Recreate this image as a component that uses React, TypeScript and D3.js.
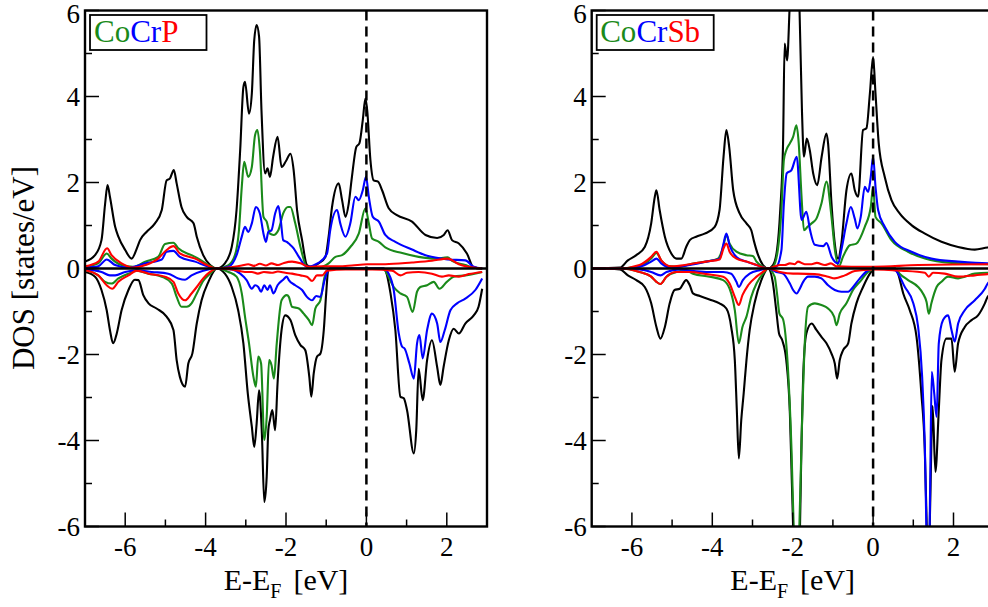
import React from 'react';
import * as d3 from 'd3';

// ---------- axis definitions ----------
const xDomain: [number, number] = [-7, 3];
const yDomain: [number, number] = [-6, 6];
const xTicksMajor = [-6, -4, -2, 0, 2];
const xTicksMinor = [-5, -3, -1, 1];
const yTicksMajor = [-6, -4, -2, 0, 2, 4, 6];
const yTicksMinor = [-5, -3, -1, 1, 3, 5];

// ---------- CoCrP (left panel) ----------
const pUpTot = [[-7,0.16],[-6.75,0.31],[-6.59,0.66],[-6.5,1.5],[-6.44,1.94],[-6.38,1.67],[-6.25,0.97],[-6.17,0.74],[-6.0,0.43],[-5.84,0.23],[-5.71,0.47],[-5.63,0.66],[-5.47,0.85],[-5.26,1.05],[-5.09,1.36],[-4.97,2.05],[-4.89,2.09],[-4.79,2.29],[-4.72,1.98],[-4.6,1.43],[-4.47,1.2],[-4.3,1.05],[-4.22,0.74],[-4.06,0.31],[-3.89,0.08],[-3.72,0],[-3.52,0.12],[-3.35,0.5],[-3.23,1.36],[-3.14,2.75],[-3.06,4.22],[-3.02,4.34],[-2.92,3.6],[-2.85,4.07],[-2.79,5.31],[-2.73,5.66],[-2.67,5.39],[-2.61,3.68],[-2.52,2.21],[-2.46,2.33],[-2.4,2.13],[-2.32,2.6],[-2.21,3.06],[-2.11,2.36],[-2.0,2.5],[-1.89,2.67],[-1.81,2.29],[-1.725,1.36],[-1.6,0.66],[-1.48,0.08],[-1.39,0.04],[-1.19,0.12],[-1.02,0.27],[-0.94,0.74],[-0.855,1.43],[-0.69,1.98],[-0.605,1.59],[-0.52,1.2],[-0.44,1.51],[-0.36,2.13],[-0.25,2.83],[-0.175,2.91],[-0.09,3.45],[-0.025,3.95],[0.02,3.68],[0.1,2.52],[0.18,2.05],[0.29,2.02],[0.39,1.82],[0.555,1.4],[0.76,1.24],[1.135,1.09],[1.47,0.78],[1.76,0.71],[1.925,0.78],[2.02,0.89],[2.13,0.66],[2.3,0.58],[2.5,0.35],[2.67,0.02],[2.88,0]];
const pUpCo = [[-7,0.04],[-6.67,0.12],[-6.46,0.35],[-6.34,0.23],[-6.09,0.08],[-5.8,0.04],[-5.5,0.16],[-5.18,0.27],[-5.01,0.57],[-4.8,0.6],[-4.68,0.47],[-4.35,0.31],[-4.18,0.23],[-3.93,0.08],[-3.72,0],[-3.43,0.08],[-3.27,0.31],[-3.17,0.89],[-3.1,1.9],[-3.04,2.48],[-2.94,2.13],[-2.85,2.36],[-2.77,3.1],[-2.71,3.22],[-2.65,2.75],[-2.56,1.2],[-2.48,1.09],[-2.4,0.81],[-2.31,0.78],[-2.19,0.89],[-2.07,1.28],[-1.95,1.43],[-1.89,1.43],[-1.77,1.05],[-1.64,0.5],[-1.48,0.04],[-1.19,0.02],[-0.94,0.12],[-0.77,0.27],[-0.605,0.31],[-0.4,0.5],[-0.19,0.81],[-0.025,1.4],[0.06,1.05],[0.14,0.7],[0.31,0.62],[0.47,0.49],[0.89,0.36],[1.3,0.27],[1.72,0.23],[2.02,0.26],[2.13,0.18],[2.46,0.08],[2.67,0.02],[2.88,0]];
const pUpCr = [[-7,0.02],[-6.67,0.05],[-6.46,0.21],[-6.25,0.08],[-5.92,0.02],[-5.5,0.12],[-5.09,0.21],[-4.97,0.39],[-4.8,0.41],[-4.64,0.27],[-4.26,0.16],[-3.93,0.04],[-3.72,0],[-3.43,0.04],[-3.23,0.31],[-3.1,0.74],[-3.02,0.97],[-2.94,0.85],[-2.85,1.05],[-2.75,1.43],[-2.65,1.28],[-2.56,0.81],[-2.5,0.62],[-2.44,0.85],[-2.36,0.89],[-2.27,1.28],[-2.19,1.45],[-2.13,1.12],[-2.07,0.66],[-1.98,0.62],[-1.93,0.58],[-1.81,0.47],[-1.68,0.27],[-1.48,0.04],[-1.19,0.13],[-0.98,0.35],[-0.9,0.89],[-0.73,1.36],[-0.65,1.05],[-0.52,0.74],[-0.4,1.05],[-0.275,1.67],[-0.19,1.59],[-0.09,1.82],[-0.01,2.13],[0.06,1.67],[0.16,1.2],[0.31,1.09],[0.47,0.78],[0.72,0.62],[1.135,0.44],[1.47,0.31],[1.88,0.23],[2.02,0.21],[2.46,0.19],[2.67,0.04],[2.88,0]];
const pUpP = [[-7,0.05],[-6.67,0.16],[-6.45,0.47],[-6.34,0.31],[-6.09,0.12],[-5.8,0.02],[-5.5,0.08],[-5.18,0.23],[-4.97,0.43],[-4.8,0.52],[-4.64,0.35],[-4.26,0.23],[-4.01,0.1],[-3.72,0],[-3.43,0.02],[-3.1,0.07],[-2.94,0.1],[-2.8,0.06],[-2.65,0.11],[-2.5,0.07],[-2.36,0.12],[-2.2,0.08],[-2.05,0.13],[-1.85,0.16],[-1.64,0.12],[-1.43,0.04],[-1.1,0.05],[-0.69,0.05],[-0.36,0.07],[0.02,0.1],[0.47,0.1],[1.135,0.14],[1.63,0.18],[2.02,0.23],[2.3,0.1],[2.67,0.02],[2.88,0]];
const pDnTot = [[-7,-0.08],[-6.75,-0.19],[-6.59,-0.5],[-6.46,-0.97],[-6.38,-1.43],[-6.3,-1.74],[-6.21,-1.51],[-6.09,-0.97],[-5.92,-0.5],[-5.76,-0.26],[-5.67,-0.27],[-5.55,-0.62],[-5.42,-0.81],[-5.22,-0.93],[-4.97,-1.12],[-4.8,-1.43],[-4.72,-2.13],[-4.64,-2.52],[-4.51,-2.75],[-4.43,-2.21],[-4.33,-1.98],[-4.22,-1.28],[-4.1,-0.74],[-3.93,-0.31],[-3.72,0],[-3.52,-0.12],[-3.35,-0.43],[-3.19,-0.97],[-3.06,-1.74],[-2.95,-2.91],[-2.85,-3.68],[-2.79,-4.15],[-2.73,-3.6],[-2.67,-2.83],[-2.6,-3.84],[-2.54,-5.43],[-2.48,-4.84],[-2.44,-3.76],[-2.4,-3.53],[-2.34,-3.29],[-2.27,-3.76],[-2.21,-2.67],[-2.11,-1.43],[-2.02,-1.09],[-1.89,-1.2],[-1.77,-1.55],[-1.64,-1.78],[-1.52,-1.9],[-1.42,-2.52],[-1.37,-2.98],[-1.31,-2.44],[-1.23,-2.05],[-1.145,-1.98],[-1.06,-1.43],[-1.0,-0.58],[-0.95,-0.04],[-0.9,0],[0.42,0],[0.47,-0.04],[0.6,-0.58],[0.72,-1.43],[0.845,-2.98],[0.93,-3.02],[1.01,-3.29],[1.18,-4.3],[1.24,-3.76],[1.3,-2.33],[1.4,-3.06],[1.51,-2.13],[1.63,-1.67],[1.76,-2.29],[1.84,-2.71],[1.92,-2.29],[2.05,-1.67],[2.17,-1.4],[2.3,-1.51],[2.46,-1.28],[2.67,-1.09],[2.79,-0.89],[2.88,-0.47]];
const pDnCo = [[-7,-0.04],[-6.67,-0.16],[-6.5,-0.31],[-6.34,-0.35],[-6.17,-0.23],[-5.92,-0.12],[-5.71,-0.05],[-5.42,-0.12],[-5.09,-0.19],[-4.84,-0.35],[-4.72,-0.66],[-4.6,-0.89],[-4.47,-0.89],[-4.35,-0.81],[-4.22,-0.58],[-4.06,-0.29],[-3.89,-0.12],[-3.72,0],[-3.43,-0.08],[-3.23,-0.19],[-3.1,-0.58],[-3.02,-1.12],[-2.92,-1.74],[-2.81,-2.52],[-2.75,-2.75],[-2.69,-2.05],[-2.62,-2.21],[-2.54,-3.99],[-2.48,-3.45],[-2.42,-2.13],[-2.36,-2.25],[-2.3,-2.56],[-2.23,-1.74],[-2.11,-0.74],[-1.98,-0.62],[-1.93,-0.66],[-1.85,-0.89],[-1.68,-0.93],[-1.56,-1.05],[-1.43,-1.2],[-1.35,-1.32],[-1.27,-0.93],[-1.145,-0.74],[-1.04,-0.19],[-0.94,-0.02],[-0.9,0],[0.42,0],[0.51,-0.12],[0.68,-0.43],[0.845,-0.58],[1.01,-0.66],[1.15,-1.01],[1.26,-0.54],[1.34,-0.43],[1.51,-0.39],[1.675,-0.31],[1.815,-0.47],[2.0,-0.31],[2.17,-0.19],[2.46,-0.16],[2.88,-0.08]];
const pDnCr = [[-7,-0.02],[-6.59,-0.08],[-6.38,-0.16],[-6.25,-0.16],[-6.0,-0.08],[-5.71,-0.04],[-5.34,-0.08],[-4.93,-0.12],[-4.68,-0.23],[-4.51,-0.26],[-4.35,-0.16],[-4.06,-0.05],[-3.72,0],[-3.35,-0.02],[-3.14,-0.12],[-2.98,-0.27],[-2.85,-0.47],[-2.77,-0.39],[-2.69,-0.43],[-2.62,-0.54],[-2.54,-0.39],[-2.46,-0.5],[-2.4,-0.39],[-2.31,-0.58],[-2.21,-0.39],[-2.07,-0.26],[-1.98,-0.19],[-1.93,-0.27],[-1.77,-0.39],[-1.6,-0.5],[-1.48,-0.66],[-1.35,-0.74],[-1.25,-0.64],[-1.145,-0.66],[-1.04,-0.27],[-0.94,-0.02],[-0.9,0],[0.42,0],[0.555,-0.12],[0.68,-0.5],[0.805,-1.51],[0.89,-1.82],[0.95,-1.86],[1.07,-2.21],[1.18,-2.56],[1.26,-1.74],[1.32,-1.55],[1.4,-2.09],[1.51,-1.43],[1.63,-1.05],[1.76,-1.28],[1.84,-1.71],[1.95,-1.43],[2.09,-0.97],[2.255,-0.81],[2.46,-0.7],[2.71,-0.5],[2.88,-0.23]];
const pDnP = [[-7,-0.04],[-6.67,-0.16],[-6.46,-0.39],[-6.32,-0.47],[-6.17,-0.31],[-5.92,-0.16],[-5.71,-0.05],[-5.42,-0.12],[-5.01,-0.19],[-4.8,-0.31],[-4.68,-0.58],[-4.51,-0.74],[-4.35,-0.58],[-4.22,-0.43],[-4.06,-0.23],[-3.89,-0.08],[-3.72,0],[-3.35,-0.02],[-3.02,-0.08],[-2.85,-0.08],[-2.7,-0.12],[-2.55,-0.08],[-2.36,-0.1],[-2.2,-0.07],[-2.02,-0.1],[-1.85,-0.12],[-1.64,-0.16],[-1.48,-0.19],[-1.35,-0.29],[-1.23,-0.16],[-1.1,-0.16],[-0.98,-0.05],[-0.52,-0.02],[0.14,-0.02],[0.64,-0.05],[0.845,-0.16],[1.01,-0.1],[1.3,-0.08],[1.63,-0.12],[1.88,-0.19],[2.05,-0.16],[2.3,-0.19],[2.545,-0.13],[2.88,-0.08]];

// ---------- CoCrSb (right panel) ----------
const sUpTot = [[-7,0],[-6.3,0.02],[-6.1,0.19],[-5.89,0.31],[-5.68,0.5],[-5.52,1.05],[-5.43,1.67],[-5.39,1.82],[-5.31,1.36],[-5.18,0.74],[-5.02,0.35],[-4.89,0.23],[-4.77,0.23],[-4.65,0.5],[-4.56,0.66],[-4.4,0.74],[-4.19,0.81],[-3.94,0.97],[-3.82,1.36],[-3.72,2.6],[-3.65,3.22],[-3.58,2.83],[-3.48,1.82],[-3.32,1.28],[-3.15,1.05],[-3.03,0.89],[-2.97,0.66],[-2.86,0.31],[-2.74,0.08],[-2.61,0],[-2.49,0.08],[-2.39,0.43],[-2.31,1.36],[-2.24,2.91],[-2.2,5.23],[-2.14,4.84],[-2.07,6.2],[-1.95,7.8],[-1.83,6.0],[-1.77,3.68],[-1.72,2.6],[-1.65,3.02],[-1.575,2.75],[-1.49,2.21],[-1.39,1.94],[-1.28,2.6],[-1.16,3.14],[-1.12,2.91],[-1.035,1.51],[-0.953,0.58],[-0.87,0.23],[-0.79,0.58],[-0.663,1.82],[-0.54,2.21],[-0.456,1.82],[-0.373,1.67],[-0.25,3.22],[-0.166,3.26],[-0.08,4.07],[0,4.92],[0.06,4.07],[0.14,2.91],[0.29,2.13],[0.457,1.59],[0.66,1.28],[0.954,1.01],[1.29,0.81],[1.7,0.62],[2.115,0.5],[2.53,0.44],[2.85,0.49],[3.0,0.5]];
const sUpCo = [[-7,0],[-6.3,0],[-5.81,0.05],[-5.52,0.23],[-5.39,0.36],[-5.27,0.19],[-5.06,0.05],[-4.81,0.04],[-4.56,0.1],[-4.15,0.16],[-3.86,0.23],[-3.73,0.5],[-3.65,0.78],[-3.57,0.58],[-3.4,0.39],[-3.15,0.31],[-2.99,0.29],[-2.9,0.16],[-2.74,0.04],[-2.61,0],[-2.49,0.04],[-2.37,0.43],[-2.28,1.36],[-2.22,2.52],[-2.16,2.75],[-2.07,2.91],[-1.99,3.06],[-1.907,3.33],[-1.85,2.91],[-1.78,1.67],[-1.72,0.89],[-1.63,0.97],[-1.53,1.05],[-1.41,1.16],[-1.285,1.51],[-1.16,2.02],[-1.035,1.2],[-0.95,0.43],[-0.85,0.05],[-0.75,0.27],[-0.58,0.54],[-0.415,0.58],[-0.207,0.97],[-0.058,1.43],[0,1.9],[0.06,1.2],[0.207,1.05],[0.457,0.66],[0.87,0.39],[1.29,0.23],[1.95,0.13],[2.85,0.1],[3.0,0.1]];
const sUpCr = [[-7,0],[-6.3,0],[-5.81,0.04],[-5.52,0.16],[-5.39,0.23],[-5.27,0.12],[-5.02,0.02],[-4.56,0.08],[-4.15,0.16],[-3.82,0.23],[-3.73,0.54],[-3.65,0.81],[-3.57,0.54],[-3.4,0.27],[-3.15,0.16],[-2.9,0.08],[-2.61,0],[-2.41,0.04],[-2.28,0.43],[-2.22,1.5],[-2.15,2.21],[-2.03,2.29],[-1.9,2.6],[-1.78,1.13],[-1.66,1.32],[-1.57,0.9],[-1.45,0.55],[-1.24,0.52],[-1.16,0.59],[-1.03,0.27],[-0.87,0.12],[-0.79,0.43],[-0.663,1.05],[-0.555,1.43],[-0.456,1.16],[-0.39,0.93],[-0.307,1.2],[-0.207,1.9],[-0.124,1.78],[-0.058,2.13],[0,2.6],[0.06,1.9],[0.125,1.36],[0.29,0.97],[0.54,0.62],[0.954,0.39],[1.45,0.23],[2.115,0.16],[2.85,0.12],[3.0,0.12]];
const sUpSb = [[-7,0],[-6.3,0],[-5.81,0.08],[-5.52,0.27],[-5.39,0.39],[-5.27,0.19],[-5.02,0.05],[-4.56,0.1],[-4.15,0.16],[-3.82,0.21],[-3.72,0.47],[-3.65,0.58],[-3.57,0.39],[-3.4,0.23],[-3.15,0.16],[-2.9,0.08],[-2.61,0],[-2.32,0.08],[-2.2,0.08],[-2.07,0.12],[-1.95,0.1],[-1.87,0.16],[-1.7,0.1],[-1.53,0.1],[-1.4,0.13],[-1.2,0.08],[-1.05,0.12],[-0.91,0.05],[-0.54,0.04],[0,0.04],[1.12,0.08],[2.85,0.1],[3.0,0.1]];
const sDnTot = [[-7,0],[-6.3,-0.02],[-6.1,-0.16],[-5.89,-0.27],[-5.68,-0.43],[-5.52,-0.81],[-5.39,-1.36],[-5.29,-1.63],[-5.18,-1.36],[-5.06,-0.81],[-4.94,-0.5],[-4.81,-0.47],[-4.65,-0.27],[-4.56,-0.39],[-4.48,-0.58],[-4.31,-0.64],[-4.07,-0.72],[-3.82,-0.81],[-3.65,-0.93],[-3.53,-1.36],[-3.44,-2.13],[-3.39,-3.29],[-3.34,-4.42],[-3.28,-3.53],[-3.22,-2.91],[-3.15,-2.13],[-3.07,-1.43],[-2.95,-0.81],[-2.78,-0.27],[-2.61,0],[-2.49,-0.35],[-2.41,-0.97],[-2.34,-1.51],[-2.26,-1.67],[-2.16,-2.13],[-2.07,-3.37],[-2.02,-5.0],[-1.97,-6.6],[-1.9,-8.0],[-1.83,-6.6],[-1.78,-4.0],[-1.74,-2.52],[-1.66,-1.51],[-1.53,-1.28],[-1.41,-1.43],[-1.285,-1.59],[-1.16,-1.74],[-1.035,-1.98],[-0.953,-2.21],[-0.895,-2.56],[-0.83,-2.13],[-0.746,-1.9],[-0.62,-1.74],[-0.54,-1.28],[-0.415,-0.81],[-0.25,-0.43],[-0.08,-0.12],[0,-0.02],[0.05,0],[0.55,0],[0.62,-0.12],[0.75,-0.58],[0.912,-0.97],[1.08,-1.59],[1.2,-2.9],[1.285,-4.2],[1.33,-5.8],[1.37,-7.5],[1.42,-5.5],[1.48,-3.2],[1.55,-4.73],[1.634,-3.29],[1.7,-2.13],[1.825,-1.63],[1.95,-1.63],[2.03,-2.4],[2.115,-1.74],[2.28,-1.36],[2.45,-1.2],[2.61,-1.09],[2.78,-0.81],[2.85,-0.66],[3.0,-0.55]];
const sDnCo = [[-7,0],[-6.3,0],[-5.81,-0.08],[-5.52,-0.19],[-5.39,-0.31],[-5.29,-0.36],[-5.14,-0.19],[-4.89,-0.08],[-4.65,-0.05],[-4.48,-0.12],[-4.07,-0.19],[-3.73,-0.27],[-3.57,-0.47],[-3.44,-0.97],[-3.34,-1.74],[-3.25,-1.36],[-3.15,-1.12],[-3.03,-0.66],[-2.9,-0.35],[-2.74,-0.12],[-2.61,0],[-2.45,-0.19],[-2.39,-0.58],[-2.33,-1.05],[-2.24,-1.18],[-2.12,-2.3],[-2.03,-4.2],[-1.97,-6.2],[-1.9,-7.5],[-1.84,-6.2],[-1.77,-3.68],[-1.7,-1.74],[-1.617,-0.89],[-1.45,-0.81],[-1.285,-0.85],[-1.12,-0.93],[-0.97,-1.12],[-0.91,-1.32],[-0.83,-1.05],[-0.663,-0.81],[-0.5,-0.5],[-0.33,-0.31],[-0.124,-0.08],[0,-0.02],[0.05,0],[0.55,0],[0.66,-0.12],[0.87,-0.27],[1.12,-0.43],[1.24,-0.58],[1.33,-0.78],[1.385,-1.05],[1.45,-0.81],[1.52,-0.58],[1.58,-0.43],[1.7,-0.31],[1.866,-0.19],[2.115,-0.23],[2.28,-0.19],[2.53,-0.12],[2.85,-0.1],[3.0,-0.1]];
const sDnCr = [[-7,0],[-6.3,0],[-5.81,-0.02],[-5.52,-0.08],[-5.29,-0.16],[-5.14,-0.08],[-4.81,-0.02],[-4.56,-0.05],[-4.15,-0.08],[-3.73,-0.08],[-3.53,-0.12],[-3.4,-0.31],[-3.34,-0.43],[-3.24,-0.27],[-3.07,-0.12],[-2.82,-0.04],[-2.61,0],[-2.41,-0.08],[-2.24,-0.12],[-2.07,-0.35],[-1.99,-0.5],[-1.9,-0.58],[-1.824,-0.47],[-1.74,-0.31],[-1.617,-0.19],[-1.45,-0.19],[-1.285,-0.23],[-1.12,-0.39],[-0.953,-0.5],[-0.787,-0.54],[-0.62,-0.54],[-0.497,-0.43],[-0.33,-0.23],[-0.124,-0.04],[0,0],[0.54,-0.04],[0.79,-0.43],[1.0,-0.81],[1.12,-1.36],[1.22,-2.52],[1.285,-4.07],[1.34,-6.5],[1.39,-7],[1.42,-5.0],[1.46,-2.4],[1.52,-2.9],[1.58,-3.45],[1.634,-1.74],[1.74,-1.2],[1.866,-1.09],[1.95,-1.43],[2.03,-1.7],[2.115,-1.28],[2.28,-0.97],[2.53,-0.74],[2.78,-0.47],[2.85,-0.35],[3.0,-0.25]];
const sDnSb = [[-7,0],[-6.3,0],[-5.81,-0.08],[-5.52,-0.19],[-5.39,-0.31],[-5.29,-0.36],[-5.14,-0.19],[-4.89,-0.08],[-4.56,-0.08],[-4.15,-0.13],[-3.73,-0.19],[-3.57,-0.35],[-3.44,-0.66],[-3.34,-0.85],[-3.25,-0.62],[-3.11,-0.39],[-2.9,-0.19],[-2.74,-0.08],[-2.61,0],[-2.32,-0.08],[-1.99,-0.12],[-1.87,-0.12],[-1.45,-0.13],[-1.12,-0.19],[-0.953,-0.23],[-0.705,-0.16],[-0.456,-0.06],[0,-0.02],[0.7,-0.05],[1.29,-0.1],[1.385,-0.19],[1.49,-0.1],[1.78,-0.12],[2.115,-0.19],[2.53,-0.16],[2.85,-0.13],[3.0,-0.12]];

const GREEN = '#1a8a1a';
const BLUE = '#0000ff';
const RED = '#ff0000';
const BLACK = '#000000';
const FONT = "'Liberation Serif', 'Times New Roman', serif";

const panels = [
  {
    id: 'p', left: 85, third: 'P',
    series: [
      { d: pUpTot, c: BLACK }, { d: pDnTot, c: BLACK },
      { d: pUpCo, c: GREEN }, { d: pDnCo, c: GREEN },
      { d: pUpCr, c: BLUE }, { d: pDnCr, c: BLUE },
      { d: pUpP, c: RED }, { d: pDnP, c: RED },
    ],
  },
  {
    id: 's', left: 591.7, third: 'Sb',
    series: [
      { d: sUpTot, c: BLACK }, { d: sDnTot, c: BLACK },
      { d: sUpCo, c: GREEN }, { d: sDnCo, c: GREEN },
      { d: sUpCr, c: BLUE }, { d: sDnCr, c: BLUE },
      { d: sUpSb, c: RED }, { d: sDnSb, c: RED },
    ],
  },
];

const W = 988, H = 607;
const TOP = 10.5, BOTTOM = 526.5, PW = 402;

function Panel({ p }: { p: typeof panels[number] }) {
  const x = d3.scaleLinear().domain(xDomain).range([p.left, p.left + PW]);
  const y = d3.scaleLinear().domain(yDomain).range([BOTTOM, TOP]);
  const line = d3.line<number[]>().x(d => x(d[0])).y(d => y(d[1])).curve(d3.curveMonotoneX);
  const cx = (x(xDomain[0]) + x(xDomain[1])) / 2;
  return (
    <g>
      <defs>
        <clipPath id={'clip-' + p.id}>
          <rect x={x(xDomain[0])} y={TOP} width={PW} height={BOTTOM - TOP} />
        </clipPath>
      </defs>
      <g clipPath={`url(#clip-${p.id})`}>
        {p.series.map((s, i) => (
          <path key={i} d={line(s.d) || ''} fill="none" stroke={s.c} strokeWidth={2.1} strokeLinejoin="round" />
        ))}
        <line x1={x(xDomain[0])} x2={x(xDomain[1])} y1={y(0)} y2={y(0)} stroke="#000" strokeWidth={2.5} />
        <line x1={x(0)} x2={x(0)} y1={TOP} y2={BOTTOM} stroke="#000" strokeWidth={2.5} strokeDasharray="10,6" />
      </g>
      {xTicksMajor.map(t => (
        <line key={'xM' + t} x1={x(t)} x2={x(t)} y1={BOTTOM} y2={BOTTOM - 14} stroke="#000" strokeWidth={1.5} />
      ))}
      {xTicksMinor.map(t => (
        <line key={'xm' + t} x1={x(t)} x2={x(t)} y1={BOTTOM} y2={BOTTOM - 7} stroke="#000" strokeWidth={1.5} />
      ))}
      {yTicksMajor.map(t => (
        <line key={'yM' + t} x1={x(xDomain[0])} x2={x(xDomain[0]) + 14} y1={y(t)} y2={y(t)} stroke="#000" strokeWidth={1.5} />
      ))}
      {yTicksMinor.map(t => (
        <line key={'ym' + t} x1={x(xDomain[0])} x2={x(xDomain[0]) + 7} y1={y(t)} y2={y(t)} stroke="#000" strokeWidth={1.5} />
      ))}
      <rect x={x(xDomain[0])} y={TOP} width={PW} height={BOTTOM - TOP} fill="none" stroke="#000" strokeWidth={2.4} />
      {xTicksMajor.map(t => (
        <text key={'xl' + t} x={x(t)} y={BOTTOM + 29} textAnchor="middle" fontFamily={FONT} fontSize={27}>{t}</text>
      ))}
      {yTicksMajor.map(t => (
        <text key={'yl' + t} x={x(xDomain[0]) - 5} y={y(t) + (t === yDomain[1] ? 12.5 : 9)} textAnchor="end" fontFamily={FONT} fontSize={27}>{t}</text>
      ))}
      <text x={cx} y={590} textAnchor="middle" fontFamily={FONT} fontSize={30}>
        <tspan>E-E</tspan>
        <tspan fontSize={20} dy={8}>F</tspan>
        <tspan dy={-8} dx={12}>[eV]</tspan>
      </text>
      <rect x={x(xDomain[0]) + 5} y={15} width={p.third === 'P' ? 116.5 : 117} height={35} fill="#fff" stroke="#000" strokeWidth={1.8} />
      <text x={x(xDomain[0]) + (p.third === 'P' ? 9 : 8.5)} y={42} fontFamily={FONT} fontSize={31}>
        <tspan fill={GREEN}>Co</tspan>
        <tspan fill={BLUE}>Cr</tspan>
        <tspan fill={RED}>{p.third}</tspan>
      </text>
    </g>
  );
}

export default function App() {
  return (
    <svg width={W} height={H} viewBox={`0 0 ${W} ${H}`}
      style={{ position: 'absolute', left: 0, top: 0, background: '#fff', display: 'block' }}>
      <rect x={0} y={0} width={W} height={H} fill="#fff" />
      {panels.map(p => <Panel key={p.id} p={p} />)}
      <text transform="translate(34,268) rotate(-90)" textAnchor="middle" fontFamily={FONT} fontSize={31}>DOS [states/eV]</text>
    </svg>
  );
}
